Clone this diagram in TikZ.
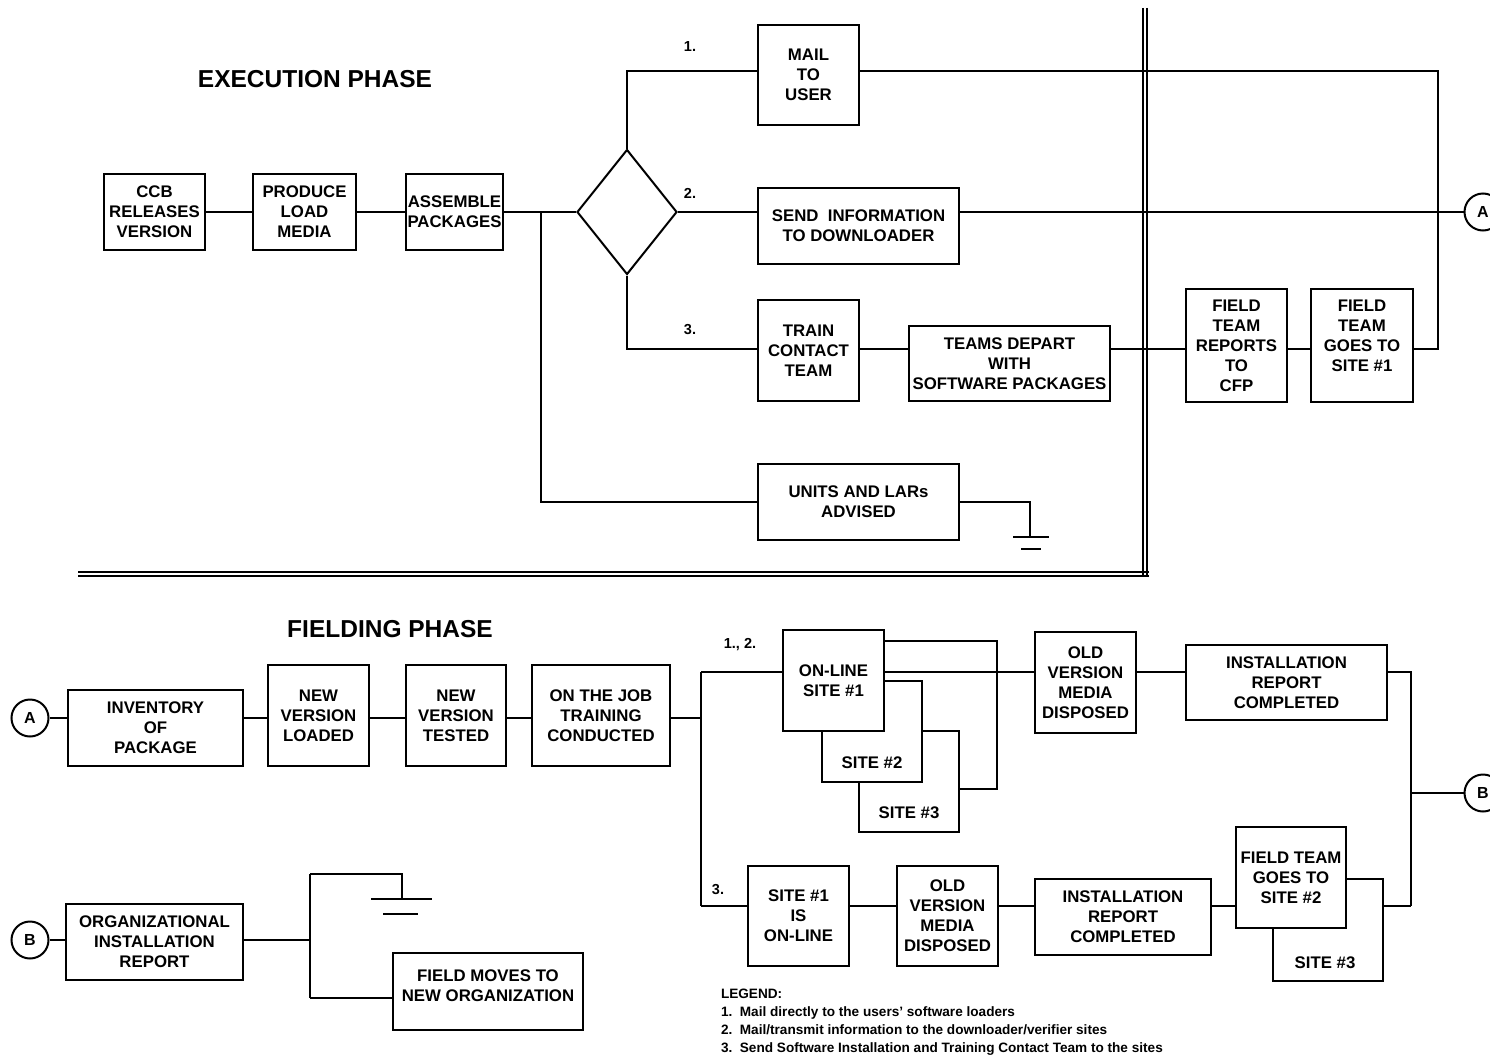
\documentclass[tikz,border=0pt]{standalone}
\usepackage{fontspec}
\setmainfont{Liberation Sans}
\usetikzlibrary{shapes.geometric}
\begin{document}
\begin{tikzpicture}[x=1pt,y=-1pt,line width=2pt,
  box/.style={draw, line width=2pt, fill=white, align=center, inner sep=0pt,
    font=\bfseries\fontsize{16.8}{20}\selectfont},
  txt/.style={align=center, inner sep=0pt, font=\bfseries\fontsize{16.8}{20}\selectfont},
  dbl/.style={line width=1.6pt},
  tag/.style={inner sep=0pt, font=\bfseries\fontsize{14.5}{17}\selectfont},
  phase/.style={inner sep=0pt, font=\bfseries\fontsize{24.5}{29}\selectfont},
  leg/.style={inner sep=0pt, anchor=base west, font=\bfseries\fontsize{13.6}{16}\selectfont},
  conn/.style={draw, circle, line width=2pt, fill=white, minimum size=37, inner sep=0pt,
    font=\bfseries\fontsize{16}{19}\selectfont},
]
\useasboundingbox (0,0) rectangle (1490,1057);
\clip (0,0) rectangle (1490,1057);

% ---------------- execution phase ----------------
\node[phase] (exectitle) at (315,79) {EXECUTION PHASE};

\node[box, minimum width=101, minimum height=76] (ccb)  at (154.5,212) {CCB\\RELEASES\\VERSION};
\node[box, minimum width=103, minimum height=76] (prod) at (304.5,212) {PRODUCE\\LOAD\\MEDIA};
\node[box, minimum width=97,  minimum height=76] (asm)  at (454.5,212) {ASSEMBLE\\PACKAGES};
\node[draw, diamond, line width=2pt, minimum width=100, minimum height=125, inner sep=0pt] (dec) at (627,212) {};

\node[box, minimum width=101, minimum height=100] (mail)  at (808.5,75)    {MAIL\\TO\\USER};
\node[box, minimum width=201, minimum height=76]  (send)  at (858.5,226)   {SEND~~INFORMATION\\TO DOWNLOADER};
\node[box, minimum width=101, minimum height=101] (train) at (808.5,350.5) {TRAIN\\CONTACT\\TEAM};
\node[box, minimum width=201, minimum height=75]  (teams) at (1009.5,363.5) {TEAMS DEPART\\WITH\\SOFTWARE PACKAGES};
\node[box, minimum width=101, minimum height=113] (rep)   at (1236.5,345.5) {FIELD\\TEAM\\REPORTS\\TO\\CFP};
\node[box, minimum width=102, minimum height=113] (goes1) at (1362,345.5) {FIELD\\TEAM\\GOES TO\\SITE \#1\\\mbox{}};
\node[box, minimum width=201, minimum height=76]  (units) at (858.5,502) {UNITS AND LARs\\ADVISED};

\node[conn] (conA) at (1483,212) {A};

\node[tag] (n1) at (690,47)  {1.};
\node[tag] (n2) at (690,193) {2.};
\node[tag] (n3) at (690,330) {3.};

% junction points
\coordinate (t1) at (627,71);
\coordinate (t2) at (1438,71);
\coordinate (r3) at (627,349);
\coordinate (b1) at (541,212);
\coordinate (g1) at (1030,537);

\draw (ccb) -- (prod);
\draw (prod) -- (asm);
\draw (asm.east) -- (dec.west);
\draw (b1) |- (units.west);
\draw (dec.north) -- (t1) -- (t1 -| mail.west);
\draw (t1 -| mail.east) -- (t2) |- (r3 -| goes1.east);
\draw (dec.east) -- (dec.east -| send.west);
\draw (dec.east -| send.east) -- (dec.east -| conA.west);
\draw (dec.south) -- (r3) -- (r3 -| train.west);
\draw (r3 -| train.east) -- (r3 -| teams.west);
\draw (r3 -| teams.east) -- (r3 -| rep.west);
\draw (r3 -| rep.east) -- (r3 -| goes1.west);
\draw (units.east) -| (g1);
% ground symbol
\draw (1013,537) -- (1049,537);
\draw (1021,549) -- (1041,549);

% phase separators
\draw[dbl] (1143,8) -- (1143,577);
\draw[dbl] (1147,8) -- (1147,577);
\draw[dbl] (78,572) -- (1149,572);
\draw[dbl] (78,576) -- (1149,576);

% ---------------- fielding phase ----------------
\node[phase] (fieldtitle) at (390,629) {FIELDING PHASE};

\node[conn] (conA2) at (30,718) {A};
\node[box, minimum width=175, minimum height=76]  (inv) at (155.5,728)  {INVENTORY\\OF\\PACKAGE};
\node[box, minimum width=101, minimum height=101] (nvl) at (318.5,715.5) {NEW\\VERSION\\LOADED};
\node[box, minimum width=100, minimum height=101] (nvt) at (456,715.5)   {NEW\\VERSION\\TESTED};
\node[box, minimum width=138, minimum height=101] (ojt) at (601,715.5)   {ON THE JOB\\TRAINING\\CONDUCTED};

% stacked on-line sites
\node[box, minimum width=100, minimum height=101] (s3) at (909,781.5) {};
\node[txt] (s3t) at (909,813) {SITE \#3};
\node[box, minimum width=100, minimum height=101] (s2) at (872,731.5) {};
\node[txt] (s2t) at (872,763) {SITE \#2};
\node[box, minimum width=101, minimum height=101] (on1) at (833.5,680.5) {ON-LINE\\SITE \#1};

\node[box, minimum width=101, minimum height=101] (old1)  at (1085.5,682.5) {OLD\\VERSION\\MEDIA\\DISPOSED};
\node[box, minimum width=201, minimum height=75]  (inst1) at (1286.5,682.5) {INSTALLATION\\REPORT\\COMPLETED};

\node[box, minimum width=101, minimum height=100] (site1b) at (798.5,916) {SITE \#1\\IS\\ON-LINE};
\node[box, minimum width=101, minimum height=100] (old2)   at (947.5,916) {OLD\\VERSION\\MEDIA\\DISPOSED};
\node[box, minimum width=176, minimum height=76]  (inst2)  at (1123,917)  {INSTALLATION\\REPORT\\COMPLETED};
\node[box, minimum width=110, minimum height=102] (s3b)    at (1328,930)  {};
\node[txt] (s3bt) at (1325,963) {SITE \#3};
\node[box, minimum width=110, minimum height=101] (ftg2)   at (1291,877.5) {FIELD TEAM\\GOES TO\\SITE \#2};

\node[conn] (conB) at (1483,793) {B};

\node[tag] (n12) at (740,645) {1., 2.};
\node[tag] (n3b) at (718,890) {3.};

\coordinate (f0) at (701,718);
\coordinate (fa) at (701,672);
\coordinate (fb) at (701,906);
\coordinate (lp1) at (997,641);
\coordinate (lp2) at (997,789);
\coordinate (rb1) at (1411,672);
\coordinate (rb2) at (1411,906);

\draw (conA2.east) -- (conA2.east -| inv.west);
\draw (inv.east |- f0) -- (f0 -| nvl.west);
\draw (nvl.east |- f0) -- (f0 -| nvt.west);
\draw (nvt.east |- f0) -- (f0 -| ojt.west);
\draw (ojt.east |- f0) -- (f0);
\draw (fa) -- (fb);
\draw (fa) -- (fa -| on1.west);
\draw (lp1 -| on1.east) -- (lp1) -- (lp2) -- (lp2 -| s3.east);
\draw (fa -| on1.east) -- (fa -| old1.west);
\draw (fa -| old1.east) -- (fa -| inst1.west);
\draw (fa -| inst1.east) -- (rb1) -- (rb2);
\draw (rb1 |- conB) -- (conB.west);
\draw (fb) -- (fb -| site1b.west);
\draw (fb -| site1b.east) -- (fb -| old2.west);
\draw (fb -| old2.east) -- (fb -| inst2.west);
\draw (fb -| inst2.east) -- (fb -| ftg2.west);
\draw (fb -| s3b.east) -- (rb2);

% organisational report branch
\node[conn] (conB2) at (30,940) {B};
\node[box, minimum width=177, minimum height=76] (org) at (154.5,942) {ORGANIZATIONAL\\INSTALLATION\\REPORT};
\node[box, minimum width=190, minimum height=77] (fmv) at (488,991.5) {};
\node[txt] (fmvt) at (488,986) {FIELD MOVES TO\\NEW ORGANIZATION};

\coordinate (v1) at (310,874);
\coordinate (v2) at (310,998);
\coordinate (jb) at (310,940);
\coordinate (g2) at (402,899);

\draw (conB2.east) -- (conB2.east -| org.west);
\draw (org.east |- jb) -- (jb);
\draw (v1) -- (v2);
\draw (v1) -| (g2);
\draw (371,899) -- (432,899);
\draw (383,914) -- (418,914);
\draw (v2) -- (v2 -| fmv.west);

% legend
\node[leg] (lg0) at (720,998)  {LEGEND:};
\node[leg] (lg1) at (720,1016) {1.~~Mail directly to the users’ software loaders};
\node[leg] (lg2) at (720,1034) {2.~~Mail/transmit information to the downloader/verifier sites};
\node[leg] (lg3) at (720,1052) {3.~~Send Software Installation and Training Contact Team to the sites};
\end{tikzpicture}
\end{document}
